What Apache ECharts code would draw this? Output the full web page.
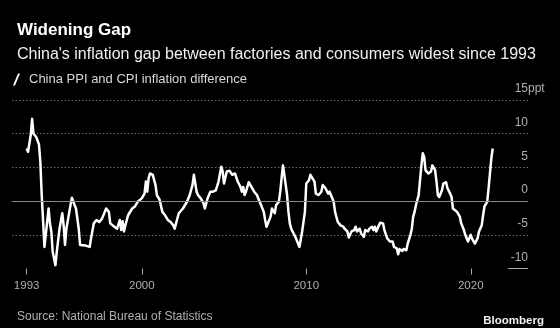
<!DOCTYPE html>
<html>
<head>
<meta charset="utf-8">
<script src="https://cdn.jsdelivr.net/npm/echarts@6/dist/echarts.min.js"></script>
<style>
  html, body { margin: 0; padding: 0; background: #000; }
  #chart { width: 560px; height: 328px; }
</style>
</head>
<body>
<div id="chart"></div>
<script>
// China PPI minus CPI inflation, percentage points (monthly readings)
const months = [
  '1993-01','1993-02','1993-04','1993-05','1993-06','1993-08','1993-10','1993-11','1993-12',
  '1994-02','1994-03','1994-05','1994-06','1994-07','1994-08','1994-10','1994-11',
  '1995-01','1995-03','1995-04','1995-05','1995-06','1995-09','1995-10','1995-12',
  '1996-01','1996-03','1996-04','1996-05','1996-08','1996-11','1996-12',
  '1997-02','1997-04','1997-06','1997-08','1997-11',
  '1998-01','1998-02','1998-05','1998-07','1998-09','1998-10','1998-11','1998-12',
  '1999-01','1999-03','1999-06','1999-08','1999-10',
  '2000-01','2000-03','2000-04','2000-05','2000-06','2000-07','2000-09','2000-11','2000-12',
  '2001-02','2001-04','2001-06','2001-08','2001-10','2001-12',
  '2002-01','2002-02','2002-04','2002-05','2002-07','2002-10','2002-12',
  '2003-02','2003-03','2003-05','2003-06','2003-08','2003-10','2003-11',
  '2004-01','2004-03','2004-05','2004-07','2004-09','2004-11','2004-12',
  '2005-01','2005-03','2005-05','2005-07','2005-09','2005-11',
  '2006-01','2006-02','2006-03','2006-04','2006-05','2006-07','2006-09','2006-11',
  '2007-01','2007-03','2007-04','2007-06','2007-07','2007-08','2007-09','2007-11','2007-12',
  '2008-02','2008-03','2008-05','2008-06','2008-07','2008-08','2008-09','2008-11','2008-12',
  '2009-01','2009-02','2009-03','2009-05','2009-07','2009-08','2009-10','2009-12',
  '2010-01','2010-03','2010-04','2010-05','2010-07','2010-08','2010-10','2010-12',
  '2011-01','2011-03','2011-05','2011-06','2011-07','2011-09','2011-10','2011-12',
  '2012-02','2012-04','2012-05','2012-07','2012-08','2012-10','2012-12',
  '2013-01','2013-02','2013-04','2013-05','2013-07','2013-08','2013-10','2013-11',
  '2014-01','2014-02','2014-03','2014-04','2014-06','2014-07','2014-09','2014-10','2014-12',
  '2015-02','2015-03','2015-04','2015-05','2015-07','2015-08','2015-09','2015-11','2015-12',
  '2016-02','2016-03','2016-05','2016-06','2016-07','2016-08','2016-09','2016-11','2016-12',
  '2017-01','2017-02','2017-03','2017-04','2017-06','2017-08','2017-09','2017-11','2017-12',
  '2018-01','2018-02','2018-04','2018-05','2018-07','2018-08','2018-10','2018-11','2018-12',
  '2019-01','2019-03','2019-05','2019-06','2019-08','2019-09','2019-11',
  '2020-01','2020-02','2020-04','2020-06','2020-07','2020-09','2020-10','2020-11',
  '2021-01','2021-02','2021-03','2021-04','2021-05'
];
const gapValues = [
  7.8, 7.3, 9.8, 12.2, 10.0, 9.5, 8.4, 5.8, 0.9,
  -6.8, -6.7, -1.1, -3.3, -4.5, -7.5, -9.5, -7.5,
  -4.1, -1.8, -3.6, -6.5, -4.1, -0.6, 0.5, -0.6,
  -1.1, -4.1, -6.5, -6.4, -6.6, -6.8, -5.5,
  -3.3, -2.8, -3.1, -2.6, -1.1,
  -1.6, -3.3, -3.8, -4.1, -2.8, -4.3, -3.0, -4.5,
  -3.6, -2.1, -1.1, -0.8, -0.1,
  0.4, 1.1, 2.9, 1.4, 3.4, 4.1, 3.9, 2.4, 0.9,
  0.2, -1.6, -2.1, -2.8, -3.1, -3.6,
  -4.1, -3.3, -1.8, -1.6, -1.1, -0.1, 0.9,
  2.4, 3.9, 1.4, 0.9, 0.4, -0.3, -1.1,
  0.4, 1.4, 1.4, 1.6, 2.9, 5.1, 4.4,
  2.6, 4.4, 4.5, 3.9, 4.1, 2.9,
  2.1, 1.4, 2.1, 0.9, 1.4, 2.8, 2.1, 1.4,
  0.9, -0.1, -0.3, -1.6, -2.8, -3.8, -3.3, -2.3, -1.1,
  -1.8, -0.6, -0.1, 1.4, 3.4, 5.3, 3.9, 0.9, -1.6,
  -3.3, -4.1, -4.3, -5.3, -6.3, -6.8, -4.5, -1.6,
  2.6, 3.1, 3.9, 4.1, 2.9, 1.1, 0.9, 1.4,
  2.4, 1.9, 1.1, 1.4, 0.9, -0.1, -1.6, -3.1,
  -3.6, -3.8, -4.1, -4.5, -5.4, -4.5, -4.3,
  -3.8, -4.5, -4.1, -4.8, -5.3, -4.3, -4.5, -4.1,
  -3.8, -4.3, -3.8, -4.5, -3.6, -3.2, -3.3, -4.3, -5.5,
  -6.0, -5.8, -6.0, -6.8, -7.0, -7.9, -7.1, -7.4, -7.1,
  -7.3, -6.3, -5.0, -4.1, -2.3, -1.6, -0.6, 0.9, 3.1,
  5.3, 7.1, 6.6, 4.6, 4.1, 4.4, 5.3, 4.6, 2.9,
  0.9, 0.6, 1.6, 2.6, 2.8, 1.9, 1.1, 0.6, -1.1,
  -1.3, -1.6, -2.3, -3.3, -4.3, -5.0, -6.0,
  -5.0, -5.6, -6.3, -5.5, -4.5, -3.6, -2.1, -0.8,
  -0.1, 1.9, 4.1, 6.3, 7.8
];
const yearTicks = [1993, 2000, 2010, 2020];
const seriesName = 'China PPI and CPI inflation difference';
const unitText = 'ppt';
const yMin = -10, yMax = 15, yStep = 5;
const xMin = 1992.11, xMax = 2023.48;

const FONT = "'Liberation Sans', Arial, sans-serif";
const LABEL_GREY = '#b0b0b0';
const LABEL_LIFT = 5;

// "YYYY-MM" -> decimal year
function toYear(m) {
  const [y, mo] = m.split('-').map(Number);
  return y + (mo - 1) / 12;
}
const seriesData = months.map((m, i) => [toYear(m), gapValues[i]]);

const chart = echarts.init(document.getElementById('chart'), null, { renderer: 'canvas' });

const option = {
  backgroundColor: '#000',
  animation: false,
  title: [
    {
      text: 'Widening Gap',
      left: 12, top: 17,
      textStyle: { color: '#fff', fontFamily: FONT, fontSize: 17, fontWeight: 'bold' }
    },
    {
      text: "China's inflation gap between factories and consumers widest since 1993",
      left: 12, top: 42,
      textStyle: { color: '#f0f0f0', fontFamily: FONT, fontSize: 16, fontWeight: 'normal' }
    },
    {
      text: 'Source: National Bureau of Statistics',
      left: 12, top: 306,
      textStyle: { color: LABEL_GREY, fontFamily: FONT, fontSize: 12, fontWeight: 'normal' }
    },
    {
      text: 'Bloomberg',
      right: 11, top: 310,
      textStyle: { color: '#f0f0f0', fontFamily: FONT, fontSize: 11.5, fontWeight: 'bold' }
    }
  ],
  legend: {
    left: 8, top: 68,
    data: [seriesName],
    icon: 'path://M0,12 L5,0 L7,0 L2,12 Z',
    itemWidth: 7, itemHeight: 12,
    selectedMode: false,
    textStyle: { color: '#d8d8d8', fontFamily: FONT, fontSize: 13, padding: [0, 0, 0, 4] }
  },
  grid: {
    left: 12, right: 32, top: 100, bottom: 59.5,
    containLabel: false,
    outerBoundsMode: 'none'
  },
  xAxis: {
    type: 'value',
    min: xMin, max: xMax,
    axisLine: { show: false, onZero: false },
    splitLine: { show: false },
    axisTick: {
      show: true, customValues: yearTicks, length: 6,
      lineStyle: { color: '#aaa', width: 1 }
    },
    axisLabel: {
      customValues: yearTicks, margin: 11,
      color: LABEL_GREY, fontFamily: FONT, fontSize: 11.5,
      formatter: v => String(v)
    }
  },
  yAxis: {
    type: 'value',
    position: 'right',
    min: yMin, max: yMax, interval: yStep,
    axisLine: { show: false },
    axisTick: { show: false },
    splitLine: {
      show: true, showMinLine: false,
      lineStyle: { color: '#6a6a6a', width: 1, type: [1.5, 2] }
    },
    axisLabel: {
      inside: true, margin: 0, align: 'right', verticalAlign: 'bottom',
      padding: [0, 0, LABEL_LIFT, 0],
      color: LABEL_GREY, fontFamily: FONT, fontSize: 12,
      formatter: v => String(v)
    }
  },
  series: [
    {
      name: seriesName,
      type: 'line',
      data: seriesData,
      showSymbol: false,
      symbol: 'none',
      lineStyle: { color: '#fff', width: 2.5, join: 'round' },
      itemStyle: { color: '#fff' },
      markLine: {
        silent: true,
        symbol: 'none',
        label: { show: false },
        lineStyle: { color: '#8a8a8a', width: 1, type: 'solid' },
        data: [{ yAxis: 0 }]
      },
      z: 3
    }
  ]
};

chart.setOption(option);

// unit suffix hanging after the top axis label, and a short rule under the lowest label
const yTop = chart.convertToPixel({ yAxisIndex: 0 }, yMax);
const yBottom = chart.convertToPixel({ yAxisIndex: 0 }, yMin);
const xRight = chart.convertToPixel({ xAxisIndex: 0 }, xMax);
chart.setOption({
  graphic: [
    {
      type: 'text',
      x: xRight, y: yTop - LABEL_LIFT,
      style: {
        text: unitText, fill: LABEL_GREY, font: '12px ' + FONT,
        textAlign: 'left', textVerticalAlign: 'bottom'
      },
      silent: true
    },
    {
      type: 'line',
      shape: { x1: xRight - 20, y1: yBottom, x2: xRight, y2: yBottom },
      style: { stroke: '#aaa', lineWidth: 1 },
      silent: true
    }
  ]
});
</script>
</body>
</html>
